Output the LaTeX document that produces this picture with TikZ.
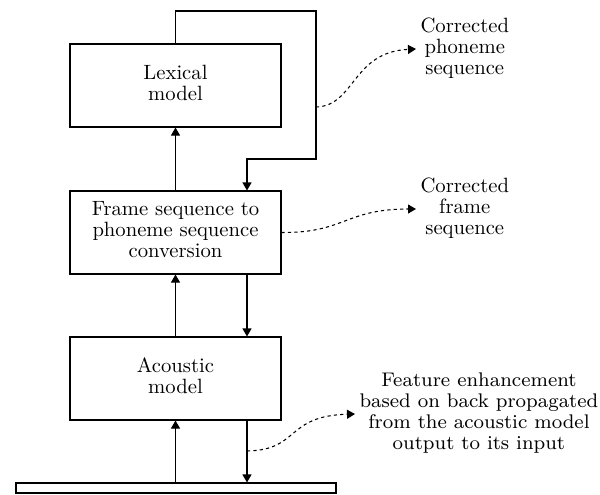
\documentclass[tikz,border=0pt]{standalone}
\usetikzlibrary{arrows.meta}
\usepackage{graphicx}

\newcommand{\boxlabel}[1]{\scalebox{1.55}{\fontsize{10}{10.16}\selectfont\begin{tabular}{@{}c@{}}#1\end{tabular}}}
\newcommand{\notelabel}[1]{\scalebox{1.85}{\fontsize{8}{8.5}\selectfont\begin{tabular}{@{}c@{}}#1\end{tabular}}}

\begin{document}
\tikzset{every picture/.style={line width=0.8pt}}

\begin{tikzpicture}[x=0.75pt,y=0.75pt,yscale=-1,xscale=1,
    blockbox/.style={draw,minimum width=158.25pt,minimum height=62.25pt,inner sep=0pt},
    notetext/.style={anchor=west,inner sep=3pt},
    flow/.style={-{Triangle[length=6pt,width=6.75pt]}},
    hint/.style={dashed,dash pattern=on 2.4pt off 2.4pt,-{Triangle[length=6pt,width=6.75pt]}}]
    \useasboundingbox (0,0) rectangle (600,494);

    %Shape: Rectangle [id:lex] 
    \node [blockbox] (lex) at (175.5,85.5) {\boxlabel{Lexical\\model}};
    %Shape: Rectangle [id:frame] 
    \node [blockbox] (frame) at (175.5,232.5) {\boxlabel{Frame sequence to\\phoneme sequence\\conversion}};
    %Shape: Rectangle [id:acou] 
    \node [blockbox] (acou) at (175.5,378.5) {\boxlabel{Acoustic\\model}};
    %Shape: Rectangle [id:input] 
    \node [draw,minimum width=240pt,minimum height=7.5pt,inner sep=0pt] (input) at (176,488) {};

    % Text Node
    \node [notetext] (phon) at (416,49) {\boxlabel{Corrected\\phoneme\\sequence}};
    % Text Node
    \node [notetext] (corr) at (416,209) {\boxlabel{Corrected\\frame\\sequence}};
    % Text Node
    \node [notetext] (feat) at (355,414) {\notelabel{Feature enhancement\\based on back propagated\\from the acoustic model\\output to its input}};

    \coordinate (rside) at (247,0);
    \coordinate (top) at (316,11);
    \coordinate (turn) at (316,159);
    \coordinate (tap) at (316,107);
    \coordinate (back) at (247,451);

    %Straight Lines [id:up] 
    \draw [flow] (frame.north) -- (lex.south);
    \draw [flow] (acou.north) -- (frame.south);
    \draw [flow] (input.north -| acou.south) -- (acou.south);
    %Straight Lines [id:down] 
    \draw [flow] (frame.south -| rside) -- (acou.north -| rside);
    \draw [flow] (acou.south -| rside) -- (input.north -| rside);
    %Straight Lines [id:loop] 
    \draw [flow] (lex.north) |- (top) -- (turn) -| (frame.north -| rside);

    %Curve Lines [id:dashes] 
    \draw [hint] (tap) .. controls (355,106) and (352,52) .. (phon.west);
    \draw [hint] (frame.east) .. controls (345,233) and (345,209) .. (corr.west);
    \draw [hint] (back) .. controls (300,450) and (285,416) .. (feat.west);

\end{tikzpicture}
\end{document}
